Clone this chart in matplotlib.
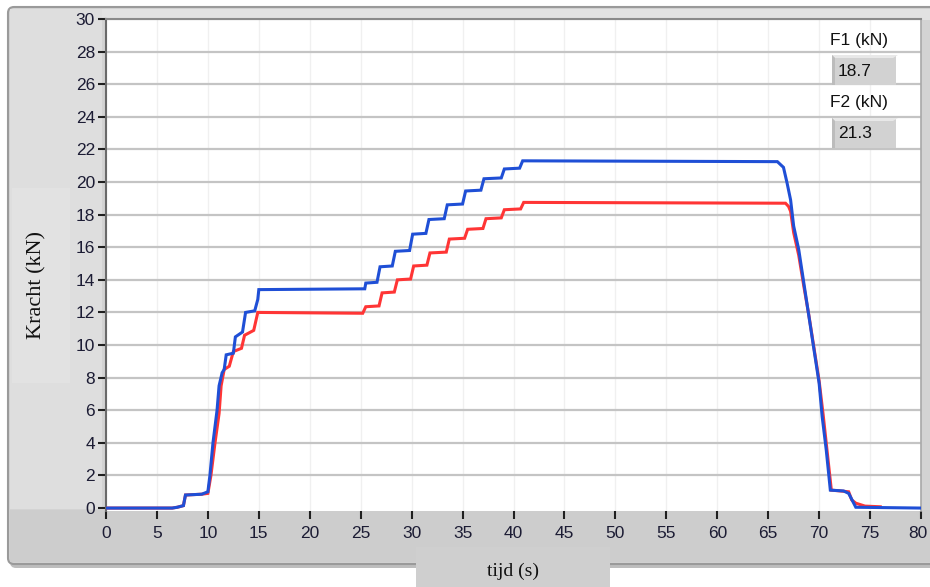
import matplotlib
matplotlib.use("Agg")
import matplotlib.pyplot as plt
import matplotlib.transforms as mtransforms
from matplotlib.patches import FancyBboxPatch, Rectangle, Polygon

# ---- data ----
t_f2 = [0, 6.5, 7.0, 7.6, 7.8, 9.4, 10.0, 10.2, 10.5, 10.9,
        11.1, 11.4, 11.6, 11.8, 12.5, 12.7, 13.4, 13.7, 14.6, 14.9,
        15.0, 25.4, 25.5, 26.6, 26.9, 28.1, 28.4, 29.8, 30.1, 31.4,
        31.7, 33.2, 33.5, 35.0, 35.3, 36.8, 37.1, 38.8, 39.1, 40.6,
        40.9, 65.9, 66.5, 66.85, 67.2, 67.5, 68.0, 68.5, 69.0, 69.5,
        70.0, 70.3, 70.7, 71.1, 72.4, 72.9, 73.6, 80]
f2 = [0, 0, 0.05, 0.15, 0.8, 0.85, 1.0, 2.0, 4.0, 6.0,
      7.5, 8.3, 8.5, 9.4, 9.5, 10.5, 10.8, 12.0, 12.1, 12.8,
      13.4, 13.45, 13.8, 13.85, 14.8, 14.85, 15.75, 15.8, 16.8, 16.85,
      17.7, 17.75, 18.6, 18.65, 19.45, 19.5, 20.2, 20.25, 20.8, 20.85,
      21.3, 21.25, 20.9, 19.95, 18.9, 17.3, 15.85, 13.8, 11.75, 9.7,
      7.66, 5.6, 3.56, 1.1, 1.05, 0.9, 0.05, 0.0]

t_f1 = [0, 6.5, 7.0, 7.6, 7.8, 9.4, 10.0, 10.3, 10.7, 11.1,
        11.3, 11.6, 12.1, 12.5, 13.3, 13.6, 14.5, 14.9, 25.2, 25.5,
        26.8, 27.1, 28.3, 28.6, 29.9, 30.2, 31.5, 31.8, 33.4, 33.7,
        35.2, 35.5, 37.0, 37.3, 38.8, 39.1, 40.7, 41.0, 66.7, 67.0,
        67.2, 67.5, 68.0, 68.5, 69.0, 69.5, 70.0, 70.4, 70.8, 71.2,
        72.9, 73.2, 73.6, 74.5, 76.0]
f1 = [0, 0, 0.05, 0.15, 0.8, 0.85, 0.9, 2.0, 4.0, 5.8,
      7.5, 8.5, 8.7, 9.6, 9.8, 10.6, 10.9, 12.0, 11.95, 12.35,
      12.4, 13.2, 13.25, 14.0, 14.05, 14.85, 14.9, 15.65, 15.7, 16.5,
      16.55, 17.1, 17.15, 17.75, 17.8, 18.3, 18.35, 18.75, 18.7, 18.5,
      18.2, 16.9, 15.5, 13.6, 11.8, 9.8, 7.8, 5.7, 3.4, 1.1,
      1.0, 0.5, 0.3, 0.12, 0.08]

x_ticks = list(range(0, 81, 5))
y_ticks = list(range(0, 31, 2))
indicator_labels = ["F1 (kN)", "F2 (kN)"]
indicator_values = ["18.7", "21.3"]

W, H = 930, 587
fig = plt.figure(figsize=(W / 100, H / 100), dpi=100)
fig.patch.set_facecolor("white")

# background overlay in pixel coords
bg = fig.add_axes([0, 0, 1, 1], zorder=0)
bg.set_xlim(0, W); bg.set_ylim(H, 0); bg.axis("off")
bg.add_patch(FancyBboxPatch((10, 10), 940, 558, boxstyle="round,pad=0,rounding_size=6",
                            fc="#bdbdbd", ec="none"))
bg.add_patch(FancyBboxPatch((8, 7), 940, 557, boxstyle="round,pad=0,rounding_size=6",
                            fc="#d3d3d3", ec="#9a9a9a", lw=1.5))
bg.add_patch(Rectangle((10, 9), 920, 11, fc="#e2e2e2", ec="none"))
bg.add_patch(Rectangle((10, 9), 92, 500, fc="#dedede", ec="none"))
bg.add_patch(Rectangle((12, 188), 58, 195, fc="#e2e2e2", ec="none"))
bg.add_patch(Rectangle((10, 510), 920, 52, fc="#cdcdcd", ec="none"))
bg.add_patch(Rectangle((416, 547), 194, 40, fc="#cfcfcf", ec="none"))

# main axes
ax_left, ax_right, ax_top, ax_bottom = 106, 921, 19, 511
ax = fig.add_axes([ax_left / W, 1 - ax_bottom / H, (ax_right - ax_left) / W,
                   (ax_bottom - ax_top) / H], zorder=5)
ax.set_facecolor("white")
ax.set_xlim(0, 80)
ax.set_ylim(-0.18, 30)

for v in x_ticks:
    ax.axvline(v, color="#f0f0f0", lw=1.0, zorder=1)
for v in y_ticks[1:]:
    ax.axhline(v, color="#c4c4c4", lw=1.6, zorder=1)

ax.plot(t_f1, f1, color="#ff3535", lw=2.2, zorder=3, solid_joinstyle="miter")
ax.plot(t_f2, f2, color="#1f4fd6", lw=2.2, zorder=4, solid_joinstyle="miter")

ax.set_xticks(x_ticks)
ax.set_yticks(y_ticks)
ax.tick_params(axis="both", direction="out", length=6, width=1.5, color="#202020",
               labelsize=12.5, labelcolor="#1c1c34")
ax.tick_params(axis="x", pad=5)
ax.tick_params(axis="y", pad=2)
for lab in ax.get_xticklabels() + ax.get_yticklabels():
    lab.set_fontfamily("Liberation Sans")
# nudge the last x label so it stays inside the picture
last = ax.get_xticklabels()[-1]
last.set_transform(last.get_transform() +
                   mtransforms.ScaledTranslation(-3 / 100, 0, fig.dpi_scale_trans))

ax.spines["left"].set_color("#6a6a6a"); ax.spines["left"].set_linewidth(1.5)
ax.spines["top"].set_color("#8a8a8a"); ax.spines["top"].set_linewidth(1.5)
ax.spines["right"].set_color("#a8a8a8"); ax.spines["right"].set_linewidth(1.2)
ax.spines["bottom"].set_visible(False)

# foreground overlay
fg = fig.add_axes([0, 0, 1, 1], zorder=10)
fg.set_xlim(0, W); fg.set_ylim(H, 0); fg.axis("off")
fg.patch.set_alpha(0)

fg.text(37, 285, "Kracht (kN)", rotation=90, ha="center", va="center",
        fontfamily="Liberation Serif", fontsize=16, color="#111111")
fg.text(513, 571, "tijd (s)", ha="center", va="center",
        fontfamily="Liberation Serif", fontsize=14, color="#111111")

ind_y = [40, 103]
for lbl, val, yy in zip(indicator_labels, indicator_values, ind_y):
    fg.text(830, yy, lbl, ha="left", va="center", fontfamily="Liberation Sans",
            fontsize=12.5, color="#111111")
    bx, by, bw, bh = 832, yy + 15, 64, 30
    fg.add_patch(Rectangle((bx, by), bw, bh, fc="#d2d2d2", ec="none"))
    fg.add_patch(Polygon([(bx, by), (bx + bw + 2, by), (bx + bw - 3, by + 3), (bx + 3, by + 3)],
                         closed=True, fc="#e8e8e8", ec="none"))
    fg.add_patch(Polygon([(bx, by), (bx + 3, by + 3), (bx + 3, by + bh), (bx, by + bh)],
                         closed=True, fc="#bcbcbc", ec="none"))
    fg.text(bx + 6, by + bh / 2 + 1, val, ha="left", va="center",
            fontfamily="Liberation Sans", fontsize=12.5, color="#111111")

fig.savefig("out.png", dpi=100)
